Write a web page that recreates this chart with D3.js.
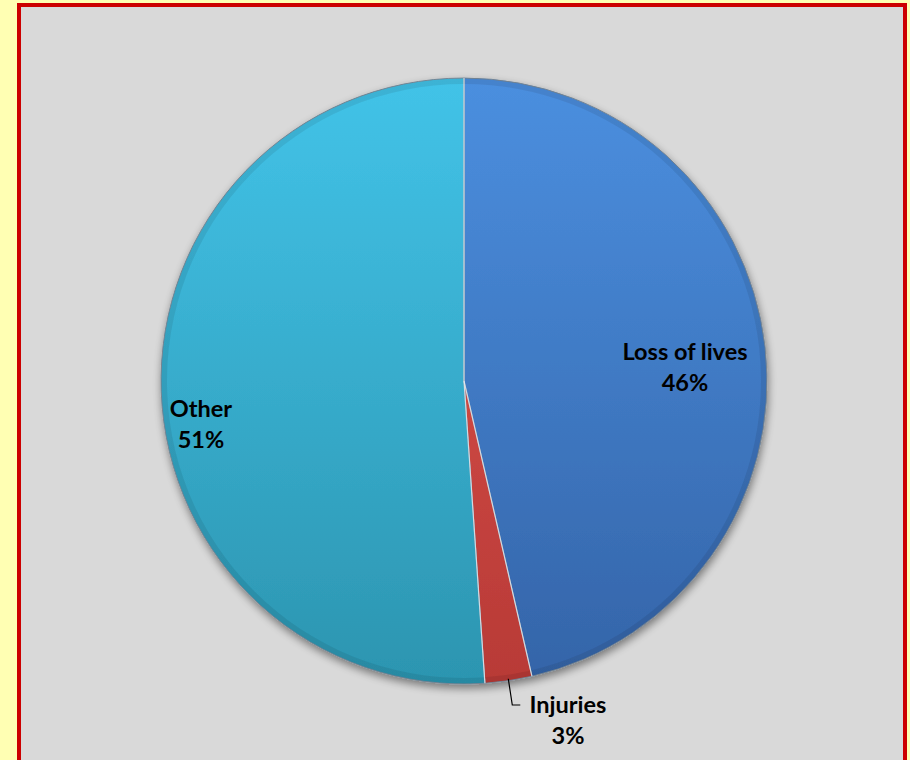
<!DOCTYPE html>
<html><head><meta charset="utf-8">
<script src="https://cdn.jsdelivr.net/npm/d3@7"></script>
<style>html,body{margin:0;padding:0;background:#ffffb3;}svg{display:block;}</style>
</head><body>
<script>
const categories = ["Loss of lives", "Injuries", "Other"];
const values = [46.4, 2.5, 51.1];
const pctLabels = ["46%", "3%", "51%"];

const W = 910, H = 760;
const svg = d3.select("body").append("svg").attr("width", W).attr("height", H);
const defs = svg.append("defs");

// frame
svg.append("rect").attr("x", 0).attr("y", 0).attr("width", W).attr("height", H).attr("fill", "#ffffb3");
svg.append("rect").attr("x", 19).attr("y", 5).attr("width", 886).attr("height", 760)
  .attr("fill", "#d9d9d9").attr("stroke", "#cc0000").attr("stroke-width", 4);

const cx = 464, cy = 381, r = 303;

const grads = [
  {id: "gLoss", top: "#4b8fdf", bot: "#3464a8"},
  {id: "gInj", top: "#e0554f", bot: "#b83a36"},
  {id: "gOther", top: "#42c3e8", bot: "#2c95b0"}
];
grads.forEach(g => {
  const lg = defs.append("linearGradient").attr("id", g.id)
    .attr("gradientUnits", "userSpaceOnUse")
    .attr("x1", 0).attr("y1", -r).attr("x2", 0).attr("y2", r);
  lg.append("stop").attr("offset", "0%").attr("stop-color", g.top);
  lg.append("stop").attr("offset", "100%").attr("stop-color", g.bot);
});
const f = defs.append("filter").attr("id", "shadow").attr("x", "-20%").attr("y", "-20%").attr("width", "140%").attr("height", "140%");
f.append("feGaussianBlur").attr("in", "SourceAlpha").attr("stdDeviation", 4).attr("result", "b");
f.append("feOffset").attr("in", "b").attr("dx", 1).attr("dy", 4).attr("result", "o");
f.append("feComponentTransfer").attr("in", "o").attr("result", "o2")
  .append("feFuncA").attr("type", "linear").attr("slope", 0.45);
const m = f.append("feMerge");
m.append("feMergeNode").attr("in", "o2");
m.append("feMergeNode").attr("in", "SourceGraphic");

const pie = d3.pie().sort(null).value(d => d)(values);
const arc = d3.arc().innerRadius(0).outerRadius(r);
const bevel = d3.arc().innerRadius(r - 6).outerRadius(r);

const g = svg.append("g").attr("transform", `translate(${cx},${cy})`);
const gp = g.append("g").attr("filter", "url(#shadow)");
gp.selectAll("path.slice").data(pie).join("path").attr("class", "slice")
  .attr("d", arc).attr("fill", (d, i) => `url(#${grads[i].id})`)
  .attr("stroke", "#7a8a99").attr("stroke-width", 1);
gp.selectAll("path.bevel").data(pie).join("path").attr("class", "bevel")
  .attr("d", bevel).attr("fill", "#000").attr("opacity", 0.08);
// light separator lines
gp.selectAll("line.sep").data(pie).join("line").attr("class", "sep")
  .attr("x1", 0).attr("y1", 0)
  .attr("x2", d => r * Math.sin(d.startAngle)).attr("y2", d => -r * Math.cos(d.startAngle))
  .attr("stroke", "#e8eef5").attr("stroke-width", 1.2).attr("opacity", 0.8);

// labels
const font = "Lato, 'Open Sans', sans-serif";
const fs = 23.5;
const labelPos = [
  {x: 221, y: -21},
  {x: 104, y: 332},
  {x: -263, y: 36}
];
const lbl = g.selectAll("g.lbl").data(pie).join("g").attr("class", "lbl")
  .attr("transform", (d, i) => `translate(${labelPos[i].x},${labelPos[i].y})`);
lbl.append("text").attr("text-anchor", "middle").attr("y", 0)
  .attr("font-family", font).attr("font-weight", "bold").attr("font-size", fs).attr("fill", "#000")
  .text((d, i) => categories[i]);
lbl.append("text").attr("text-anchor", "middle").attr("y", 31)
  .attr("font-family", font).attr("font-weight", "bold").attr("font-size", fs).attr("fill", "#000")
  .text((d, i) => pctLabels[i]);

// leader line for Injuries
const inj = pie[1];
const ma = (inj.startAngle + inj.endAngle) / 2;
const px = (r - 2) * Math.sin(ma), py = -(r - 2) * Math.cos(ma);
g.append("path")
  .attr("d", `M${px},${py} L${px + 4},${324} L${px + 12},${324}`)
  .attr("fill", "none").attr("stroke", "#000").attr("stroke-width", 1.2);
</script>
</body></html>
